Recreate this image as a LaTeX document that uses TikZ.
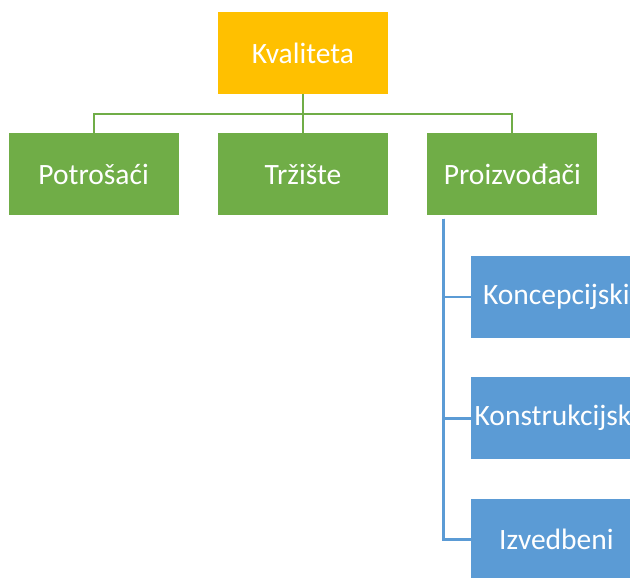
\documentclass[tikz,border=0pt]{standalone}
\usepackage{fontspec}
\setmainfont{Carlito}
\usetikzlibrary{positioning,calc}

\definecolor{offorange}{HTML}{FFC000}
\definecolor{offgreen}{HTML}{70AD47}
\definecolor{offblue}{HTML}{5B9BD5}

\begin{document}
\begin{tikzpicture}[node distance=39pt]
  \fontsize{29.5}{34}\selectfont
  \tikzset{
    box/.style={rectangle, minimum width=170pt, minimum height=82pt, inner sep=0pt, text=white},
    topbox/.style={box, fill=offorange},
    greenbox/.style={box, fill=offgreen},
    bluebox/.style={box, fill=offblue},
    greenline/.style={draw=offgreen, line width=2pt},
    blueline/.style={draw=offblue, line width=2.6pt}
  }
  \useasboundingbox (0,0) rectangle (630pt,-578pt);
  \node[topbox] (kval) at (303pt,-53pt) {Kvaliteta};
  \node[greenbox, below=of kval] (trz) {Tržište};
  \node[greenbox, left=of trz] (potr) {Potrošaći};
  \node[greenbox, right=of trz] (proiz) {Proizvođači};
  \node[bluebox, anchor=north west] (konc) at ([xshift=44pt,yshift=-40pt]proiz.south west) {Koncepcijski};
  \node[bluebox, below=of konc] (konstr) {Konstrukcijski};
  \node[bluebox, below=of konstr] (izved) {Izvedbeni};
  % green tree
  \draw[greenline] (kval.south) -- ++(0,-19.5pt) -| (potr.north);
  \draw[greenline] (kval.south) -- ++(0,-19.5pt) -| (proiz.north);
  \draw[greenline] (kval.south) -- (trz.north);
  % blue tree
  \coordinate (trunk) at ([xshift=16pt,yshift=-3pt]proiz.south west);
  \draw[blueline] (trunk) |- (konc.west);
  \draw[blueline] (trunk) |- (konstr.west);
  \draw[blueline] (trunk) |- (izved.west);
\end{tikzpicture}
\end{document}
